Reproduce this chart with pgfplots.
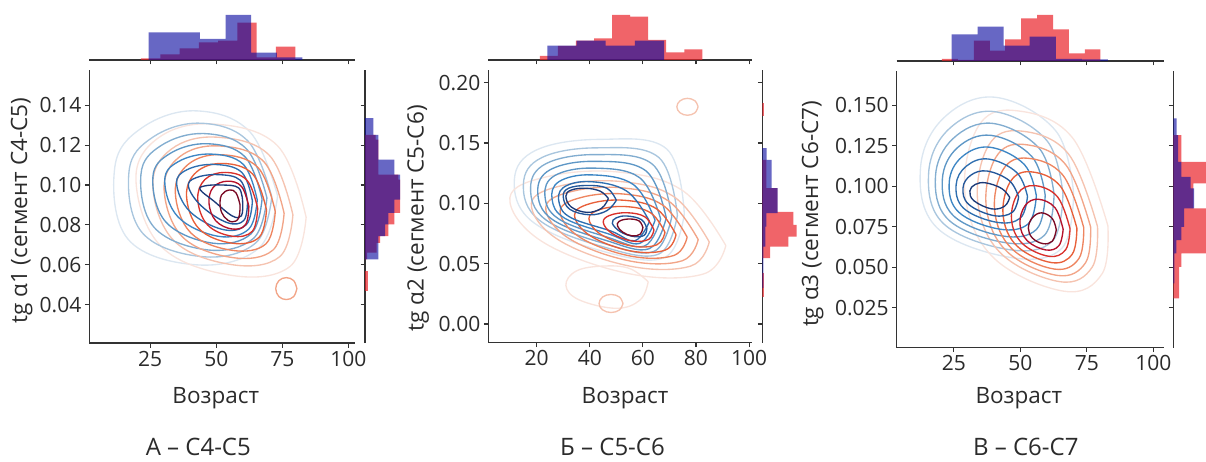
\documentclass[border=0pt]{standalone}
\usepackage{fontspec}
\setmainfont{Open Sans}
\usepackage{pgfplots}
\pgfplotsset{compat=1.18}
\definecolor{tc}{HTML}{2B2B2B}
\definecolor{axc}{HTML}{333333}
\definecolor{hr}{RGB}{233,34,41}
\definecolor{hb}{RGB}{10,10,160}
\definecolor{b0}{HTML}{1B3A78}
\definecolor{b1}{HTML}{23579A}
\definecolor{b2}{HTML}{2F6FB0}
\definecolor{b3}{HTML}{3D86C4}
\definecolor{b4}{HTML}{5E97C6}
\definecolor{b5}{HTML}{82ADD0}
\definecolor{b6}{HTML}{A9C6DE}
\definecolor{b7}{HTML}{DCE7F1}
\definecolor{r0}{HTML}{7A0A24}
\definecolor{r1}{HTML}{B5122B}
\definecolor{r2}{HTML}{D9312B}
\definecolor{r3}{HTML}{E8603A}
\definecolor{r4}{HTML}{EE8560}
\definecolor{r5}{HTML}{F2A588}
\definecolor{r6}{HTML}{F5C3B0}
\definecolor{r7}{HTML}{F9E4DD}
\pgfplotsset{
 base/.style={scale only axis, anchor=south west,
   axis line style={draw=axc, line width=1.2pt},
   tick style={draw=axc, line width=1.1pt}, major tick length=4.5pt, tick align=outside,
   /pgf/number format/assume math mode=true,
   tick label style={font=\fontsize{21}{21}\selectfont, text=tc},
   label style={font=\fontsize{22.5}{22.5}\selectfont, text=tc},
   scaled x ticks=false, scaled y ticks=false},
 mainax/.style={base, axis x line*=bottom, axis y line*=left},
 topax/.style={base, axis x line*=bottom, axis y line=none, ymin=0, ymax=55, height=55pt, xticklabels={}},
 rightax/.style={base, axis y line*=left, axis x line=none, xmin=0, xmax=45, width=45pt, yticklabels={}},
 ct/.style={smooth, tension=0.65, line width=1.35pt, draw=#1, mark=none},
 hr/.style={fill=hr, fill opacity=0.7, draw=none},
 hb/.style={fill=hb, fill opacity=0.62, draw=none},
}
\begin{document}
\begin{tikzpicture}
\useasboundingbox (0,0) rectangle (1206pt,-462pt);
\clip (0,0) rectangle (1206pt,-462pt);

% ================= Panel A =================
\begin{axis}[topax, at={(89.3pt,-60pt)}, width=265.7pt, xmin=1.95, xmax=102.5, xtick={25,50,75,100}]
\addplot[hr, const plot] coordinates {(21.5,1.7) (28.8,5.7) (36.1,11.7) (43.4,17.7) (50.7,19.3) (58.0,37.3) (65.3,2.5) (72.6,13.3) (79.9,13.3)} \closedcycle;
\addplot[hb, const plot] coordinates {(24.4,27.7) (34.1,27.7) (43.8,21) (53.5,45) (63.2,7.3) (72.9,2.5) (82.6,2.5)} \closedcycle;
\end{axis}
\begin{axis}[rightax, at={(365pt,-343pt)}, height=273pt, ymin=0.0207, ymax=0.1577, ytick={0.04,0.06,0.08,0.10,0.12,0.14}]
\addplot[hr] coordinates {(0,0.1252) (10.7,0.1252) (10.7,0.1227) (13.3,0.1227) (13.3,0.1052) (33.3,0.1052) (33.3,0.1027) (35,0.1027) (35,0.0860) (29.3,0.0860) (29.3,0.0802) (23.3,0.0802) (23.3,0.0743) (15,0.0743) (15,0.0710) (11.7,0.0710) (11.7,0.0660) (2,0.0660) (2,0.0627) (0,0.0627)};
\addplot[hr] coordinates {(0,0.0568) (3.3,0.0568) (3.3,0.0468) (0,0.0468)};
\addplot[hb] coordinates {(0,0.1335) (8.3,0.1335) (8.3,0.1252) (13.3,0.1252) (13.3,0.1127) (29.3,0.1127) (29.3,0.1052) (35,0.1052) (35,0.0927) (29.3,0.0927) (29.3,0.0860) (23.3,0.0860) (23.3,0.0802) (20,0.0802) (20,0.0743) (13.3,0.0743) (13.3,0.0627) (0,0.0627)};
\end{axis}
\begin{axis}[mainax, at={(89.3pt,-343pt)}, width=265.7pt, height=273pt,
 xmin=1.95, xmax=102.5, ymin=0.0207, ymax=0.1577,
 xtick={25,50,75,100}, xticklabels={25,50,75,100},
 ytick={0.04,0.06,0.08,0.10,0.12,0.14}, yticklabels={0.04,0.06,0.08,0.10,0.12,0.14},
 xlabel={Возраст}, ylabel={tg α1 (сегмент С4-С5)},
 xlabel style={at={(axis description cs:0.476,-0.2015)}, anchor=center},
 ylabel style={at={(axis description cs:-0.2544,0.4842)}, anchor=center}]
\addplot[ct=b7] coordinates {(73.2,0.0946) (62.7,0.1267) (42.4,0.1372) (22.1,0.1289) (11.6,0.1089) (16.6,0.0728) (42.8,0.0599) (66.1,0.0683) (73.2,0.0946)};
\addplot[ct=r7] coordinates {(84,0.0838) (73.1,0.1198) (48.75,0.1306) (28.25,0.1238) (19.6,0.1028) (29.25,0.069) (56,0.0546) (77.9,0.0591) (84,0.0838)};
\addplot[ct=r5] coordinates {(80.5,0.048) (79.3,0.052) (76.5,0.0535) (73.7,0.052) (72.5,0.048) (73.7,0.044) (76.5,0.0425) (79.3,0.044) (80.5,0.048)};
\addplot[ct=b6] coordinates {(71,0.094) (62,0.122) (44,0.131) (26,0.124) (17,0.107) (22,0.076) (45,0.064) (65,0.071) (71,0.094)};
\addplot[ct=r6] coordinates {(79,0.085) (70,0.115) (50,0.124) (33,0.118) (26,0.1) (34,0.072) (56,0.06) (74,0.064) (79,0.085)};
\addplot[ct=b5] coordinates {(69.17,0.0935) (61.42,0.1181) (45.33,0.1258) (29.25,0.1199) (21.5,0.1054) (26.5,0.0787) (46.83,0.0674) (64.08,0.0732) (69.17,0.0935)};
\addplot[ct=r5] coordinates {(75.67,0.0858) (67.92,0.1118) (50.83,0.1196) (36.17,0.1142) (30.25,0.0982) (37.17,0.074) (56,0.0636) (71.42,0.0673) (75.67,0.0858)};
\addplot[ct=b4] coordinates {(67.33,0.093) (60.83,0.1142) (46.67,0.1207) (32.5,0.1158) (26,0.1038) (31,0.0813) (48.67,0.0708) (63.17,0.0755) (67.33,0.093)};
\addplot[ct=r4] coordinates {(72.33,0.0867) (65.83,0.1087) (51.67,0.1152) (39.33,0.1103) (34.5,0.0963) (40.33,0.076) (56,0.0672) (68.83,0.0705) (72.33,0.0867)};
\addplot[ct=b3] coordinates {(65.5,0.0925) (60.25,0.1103) (48,0.1155) (35.75,0.1118) (30.5,0.1023) (35.5,0.084) (50.5,0.0743) (62.25,0.0778) (65.5,0.0925)};
\addplot[ct=r3] coordinates {(69,0.0875) (63.75,0.1055) (52.5,0.1108) (42.5,0.1065) (38.75,0.0945) (43.5,0.078) (56,0.0708) (66.25,0.0738) (69,0.0875)};
\addplot[ct=b2] coordinates {(63.67,0.092) (59.67,0.1063) (49.33,0.1103) (39,0.1077) (35,0.1007) (40,0.0867) (52.33,0.0777) (61.33,0.08) (63.67,0.092)};
\addplot[ct=r2] coordinates {(65.67,0.0883) (61.67,0.1023) (53.33,0.1063) (45.67,0.1027) (43,0.0927) (46.67,0.08) (56,0.0743) (63.67,0.0768) (65.67,0.0883)};
\addplot[ct=b1] coordinates {(61.83,0.0915) (59.08,0.1024) (50.67,0.1052) (42.25,0.1036) (39.5,0.0991) (44.5,0.0893) (54.17,0.0811) (60.42,0.0822) (61.83,0.0915)};
\addplot[ct=r1] coordinates {(62.33,0.0892) (59.58,0.0992) (54.17,0.1019) (48.83,0.0988) (47.25,0.0908) (49.83,0.082) (56,0.0779) (61.08,0.0801) (62.33,0.0892)};
\addplot[ct=b0] coordinates {(60,0.091) (58.5,0.0985) (52,0.1) (45.5,0.0995) (44,0.0975) (49,0.092) (56,0.0845) (59.5,0.0845) (60,0.091)};
\addplot[ct=r0] coordinates {(59,0.09) (57.5,0.096) (55,0.0975) (52,0.095) (51.5,0.089) (53,0.084) (56,0.0815) (58.5,0.0835) (59,0.09)};
\end{axis}

% ================= Panel B =================
\begin{axis}[topax, at={(488.3pt,-60pt)}, width=263.4pt, xmin=1.77, xmax=101, xtick={20,40,60,80,100}]
\addplot[hr, const plot] coordinates {(21.2,4) (28,14) (34.8,19.3) (41.6,21.7) (48.4,45) (55.2,43.3) (62,20) (68.8,7.7) (75.6,10.7) (82.4,10.7)} \closedcycle;
\addplot[hb, const plot] coordinates {(24,14.3) (35,19.3) (46,14.3) (57,19.3) (68,19.3)} \closedcycle;
\end{axis}
\begin{axis}[rightax, at={(762.3pt,-342.7pt)}, height=272.7pt, ymin=-0.0155, ymax=0.2105, ytick={0,0.05,0.10,0.15,0.20}]
\addplot[hr] coordinates {(0,0.136) (4,0.136) (4,0.1125) (15,0.1125) (15,0.093) (31,0.093) (31,0.0821) (34.3,0.0821) (34.3,0.0724) (26,0.0724) (26,0.0641) (7.7,0.0641) (7.7,0.0545) (0,0.0545)};
\addplot[hr] coordinates {(0,0.183) (1.5,0.183) (1.5,0.172) (0,0.172)};
\addplot[hr] coordinates {(0,0.0423) (1.5,0.0423) (1.5,0.0226) (0,0.0226)};
\addplot[hb] coordinates {(0,0.1457) (4.3,0.1457) (4.3,0.136) (9.3,0.136) (9.3,0.1125) (15.3,0.1125) (15.3,0.0918) (4,0.0918) (4,0.0807) (3,0.0807) (3,0.0641) (1,0.0641) (1,0.030) (0,0.030)};
\end{axis}
\begin{axis}[mainax, at={(488.3pt,-342.7pt)}, width=263.4pt, height=272.7pt,
 xmin=1.77, xmax=101, ymin=-0.0155, ymax=0.2105,
 xtick={20,40,60,80,100}, xticklabels={20,40,60,80,100},
 ytick={0,0.05,0.10,0.15,0.20}, yticklabels={0.00,0.05,0.10,0.15,0.20},
 xlabel={Возраст}, ylabel={tg α2 (сегмент С5-С6)},
 xlabel style={at={(axis description cs:0.519,-0.2028)}, anchor=center},
 ylabel style={at={(axis description cs:-0.2658,0.456)}, anchor=center}]
\addplot[ct=r7] coordinates {(62,0.035) (55,0.046) (45,0.048) (35,0.044) (31,0.032) (36,0.02) (50,0.013) (59,0.02) (62,0.035)};
\addplot[ct=r6] coordinates {(52.5,0.017) (51.2,0.0223) (48,0.0245) (44.8,0.0223) (43.5,0.017) (44.8,0.0117) (48,0.0095) (51.2,0.0117) (52.5,0.017)};
\addplot[ct=r6] coordinates {(80.8,0.18) (79.6,0.185) (76.8,0.187) (74,0.185) (72.8,0.18) (74,0.175) (76.8,0.173) (79.6,0.175) (80.8,0.18)};
\addplot[ct=b7] coordinates {(75.6,0.0913) (69,0.145) (43.75,0.153) (20,0.1443) (11.6,0.12) (18,0.0855) (44.25,0.0607) (68.25,0.0552) (75.6,0.0913)};
\addplot[ct=r7] coordinates {(91.25,0.065) (75.4,0.1099) (51.4,0.1258) (24.75,0.1225) (9.9,0.1048) (21.9,0.0685) (54.75,0.0417) (82.75,0.0414) (91.25,0.065)};
\addplot[ct=b6] coordinates {(73,0.09) (66,0.138) (43,0.146) (22,0.138) (15,0.116) (21,0.086) (45,0.064) (66,0.058) (73,0.09)};
\addplot[ct=r6] coordinates {(85,0.068) (72,0.105) (52,0.118) (30,0.115) (18,0.1) (28,0.07) (55,0.048) (78,0.048) (85,0.068)};
\addplot[ct=b5] coordinates {(70.9,0.089) (63.6,0.1324) (42.4,0.1404) (23.6,0.133) (17.7,0.1128) (23.4,0.0864) (45.6,0.0666) (64.2,0.0602) (70.9,0.089)};
\addplot[ct=r5] coordinates {(80.83,0.07) (69.75,0.1018) (52.42,0.1128) (33.5,0.11) (23.42,0.0968) (32.08,0.071) (55.17,0.0522) (74.83,0.0524) (80.83,0.07)};
\addplot[ct=b4] coordinates {(68.8,0.088) (61.2,0.1268) (41.8,0.1348) (25.2,0.128) (20.4,0.1096) (25.8,0.0868) (46.2,0.0692) (62.4,0.0624) (68.8,0.088)};
\addplot[ct=r4] coordinates {(76.67,0.072) (67.5,0.0985) (52.83,0.1077) (37,0.105) (28.83,0.0937) (36.17,0.072) (55.33,0.0563) (71.67,0.0568) (76.67,0.072)};
\addplot[ct=b4] coordinates {(66.7,0.087) (58.8,0.1212) (41.2,0.1292) (26.8,0.123) (23.1,0.1064) (28.2,0.0872) (46.8,0.0718) (60.6,0.0646) (66.7,0.087)};
\addplot[ct=r3] coordinates {(72.5,0.074) (65.25,0.0953) (53.25,0.1025) (40.5,0.1) (34.25,0.0905) (40.25,0.073) (55.5,0.0605) (68.5,0.0613) (72.5,0.074)};
\addplot[ct=b3] coordinates {(64.6,0.086) (56.4,0.1156) (40.6,0.1236) (28.4,0.118) (25.8,0.1032) (30.6,0.0876) (47.4,0.0744) (58.8,0.0668) (64.6,0.086)};
\addplot[ct=r3] coordinates {(68.33,0.076) (63,0.092) (53.67,0.0973) (44,0.095) (39.67,0.0873) (44.33,0.074) (55.67,0.0647) (65.33,0.0657) (68.33,0.076)};
\addplot[ct=b2] coordinates {(62.5,0.085) (54,0.11) (40,0.118) (30,0.113) (28.5,0.1) (33,0.088) (48,0.077) (57,0.069) (62.5,0.085)};
\addplot[ct=r2] coordinates {(64.17,0.078) (60.75,0.0888) (54.08,0.0922) (47.5,0.09) (45.08,0.0842) (48.42,0.075) (55.83,0.0688) (62.17,0.0701) (64.17,0.078)};
\addplot[ct=b1] coordinates {(50,0.1025) (46.5,0.1125) (39,0.1148) (32,0.1125) (30,0.1055) (32.5,0.095) (40,0.0905) (46.5,0.094) (50,0.1025)};
\addplot[ct=b1] coordinates {(61.5,0.079) (59.5,0.0865) (54,0.0895) (50,0.088) (48.5,0.0835) (51.5,0.0765) (56.5,0.0725) (60.5,0.0735) (61.5,0.079)};
\addplot[ct=b0] coordinates {(47,0.104) (44,0.11) (38.5,0.1125) (33,0.111) (31,0.106) (33,0.097) (39,0.0925) (44.5,0.096) (47,0.104)};
\addplot[ct=r0] coordinates {(60,0.08) (58.5,0.0855) (54.5,0.087) (51,0.085) (50.5,0.081) (52.5,0.076) (56,0.073) (59,0.0745) (60,0.08)};
\end{axis}

% ================= Panel C =================
\begin{axis}[topax, at={(896.7pt,-61pt)}, width=267.3pt, xmin=3.5, xmax=104, xtick={25,50,75,100}]
\addplot[hr, const plot] coordinates {(20.5,2) (26.5,1) (32.5,20.3) (38.5,10.3) (44.3,21.7) (50.3,42.7) (56.3,46) (62.3,31.7) (68.2,7.7) (74.2,11.7) (80.1,11.7)} \closedcycle;
\addplot[hb, const plot] coordinates {(24.1,26.7) (33.9,34.3) (43.7,15.3) (53.5,24.3) (63.3,2) (73.1,1.5) (82.9,1.5)} \closedcycle;
\end{axis}
\begin{axis}[rightax, at={(1173.3pt,-347.7pt)}, height=277pt, ymin=0.0003, ymax=0.1712, ytick={0.025,0.05,0.075,0.1,0.125,0.15}]
\addplot[hr] coordinates {(0,0.1315) (8,0.1315) (8,0.115) (38,0.115) (38,0.1017) (20,0.1017) (20,0.0862) (38,0.0862) (38,0.0585) (8,0.0585) (8,0.0502) (5.7,0.0502) (5.7,0.0307) (0,0.0307)};
\addplot[hb] coordinates {(0,0.1418) (3.3,0.1418) (3.3,0.1315) (4.7,0.1315) (4.7,0.115) (8,0.115) (8,0.1057) (17.3,0.1057) (17.3,0.0986) (20.7,0.0986) (20.7,0.0862) (10.7,0.0862) (10.7,0.0749) (8,0.0749) (8,0.0667) (3,0.0667) (3,0.0585) (1,0.0585) (1,0.04) (0,0.04)};
\end{axis}
\begin{axis}[mainax, at={(896.7pt,-347.7pt)}, width=267.3pt, height=277pt,
 xmin=3.5, xmax=104, ymin=0.0003, ymax=0.1712,
 xtick={25,50,75,100}, xticklabels={25,50,75,100},
 ytick={0.025,0.05,0.075,0.1,0.125,0.15}, yticklabels={0.025,0.050,0.075,0.100,0.125,0.150},
 xlabel={Возраст}, ylabel={tg α3 (сегмент С6-С7)},
 xlabel style={at={(axis description cs:0.4568,-0.1827)}, anchor=center},
 ylabel style={at={(axis description cs:-0.314,0.4827)}, anchor=center}]
\addplot[ct=b7] coordinates {(70,0.0954) (63.4,0.1339) (40.6,0.1548) (21,0.1418) (12.4,0.1102) (18.7,0.0742) (46.2,0.056) (65.6,0.0617) (70,0.0954)};
\addplot[ct=r7] coordinates {(82.9,0.0755) (69.5,0.13) (48,0.1466) (33.9,0.1361) (29.25,0.094) (40.1,0.0555) (66.6,0.0351) (80.75,0.046) (82.9,0.0755)};
\addplot[ct=b6] coordinates {(66,0.095) (60,0.128) (40,0.146) (23,0.135) (15.5,0.108) (21,0.077) (45,0.061) (62,0.066) (66,0.095)};
\addplot[ct=r6] coordinates {(79,0.075) (68,0.12) (50,0.134) (38,0.125) (34,0.09) (43,0.058) (65,0.041) (77,0.05) (79,0.075)};
\addplot[ct=b5] coordinates {(62.67,0.0947) (57.17,0.1231) (39.5,0.1387) (24.67,0.1293) (18.08,0.1062) (22.92,0.0793) (44,0.0652) (59,0.0696) (62.67,0.0947)};
\addplot[ct=r5] coordinates {(76.42,0.0747) (67,0.1133) (51.33,0.1257) (40.75,0.1177) (37.17,0.0873) (44.92,0.0597) (63.92,0.0449) (74.5,0.0527) (76.42,0.0747)};
\addplot[ct=b4] coordinates {(59.33,0.0943) (54.33,0.1182) (39,0.1313) (26.33,0.1237) (20.67,0.1043) (24.83,0.0817) (43,0.0693) (56,0.0732) (59.33,0.0943)};
\addplot[ct=r4] coordinates {(73.83,0.0743) (66,0.1067) (52.67,0.1172) (43.5,0.1102) (40.33,0.0847) (46.83,0.0613) (62.83,0.0488) (72,0.0553) (73.83,0.0743)};
\addplot[ct=b3] coordinates {(56,0.094) (51.5,0.1133) (38.5,0.124) (28,0.118) (23.25,0.1025) (26.75,0.084) (42,0.0735) (53,0.0768) (56,0.094)};
\addplot[ct=r3] coordinates {(71.25,0.074) (65,0.1) (54,0.1088) (46.25,0.1028) (43.5,0.082) (48.75,0.063) (61.75,0.0528) (69.5,0.058) (71.25,0.074)};
\addplot[ct=b2] coordinates {(52.67,0.0937) (48.67,0.1083) (38,0.1167) (29.67,0.1123) (25.83,0.1007) (28.67,0.0863) (41,0.0777) (50,0.0803) (52.67,0.0937)};
\addplot[ct=r2] coordinates {(68.67,0.0737) (64,0.0933) (55.33,0.1003) (49,0.0953) (46.67,0.0793) (50.67,0.0647) (60.67,0.0567) (67,0.0607) (68.67,0.0737)};
\addplot[ct=b1] coordinates {(49.33,0.0933) (45.83,0.1034) (37.5,0.1093) (31.33,0.1067) (28.42,0.0988) (30.58,0.0887) (40,0.0818) (47,0.0839) (49.33,0.0933)};
\addplot[ct=r1] coordinates {(66.08,0.0733) (63,0.0867) (56.67,0.0919) (51.75,0.0879) (49.83,0.0767) (52.58,0.0663) (59.58,0.0606) (64.5,0.0633) (66.08,0.0733)};
\addplot[ct=b0] coordinates {(46,0.093) (43,0.0985) (37,0.102) (33,0.101) (31,0.097) (32.5,0.091) (39,0.086) (44,0.0875) (46,0.093)};
\addplot[ct=r0] coordinates {(63.5,0.073) (62,0.08) (58,0.0835) (54.5,0.0805) (53,0.074) (54.5,0.068) (58.5,0.0645) (62,0.066) (63.5,0.073)};
\end{axis}

\node[font=\fontsize{24}{24}\selectfont, text=tc, inner sep=0pt] at (198.3pt,-446.5pt) {А – С4-С5};
\node[font=\fontsize{24}{24}\selectfont, text=tc, inner sep=0pt] at (612.5pt,-446.5pt) {Б – С5-С6};
\node[font=\fontsize{24}{24}\selectfont, text=tc, inner sep=0pt] at (1025.8pt,-446.5pt) {В – С6-С7};
\end{tikzpicture}
\end{document}
